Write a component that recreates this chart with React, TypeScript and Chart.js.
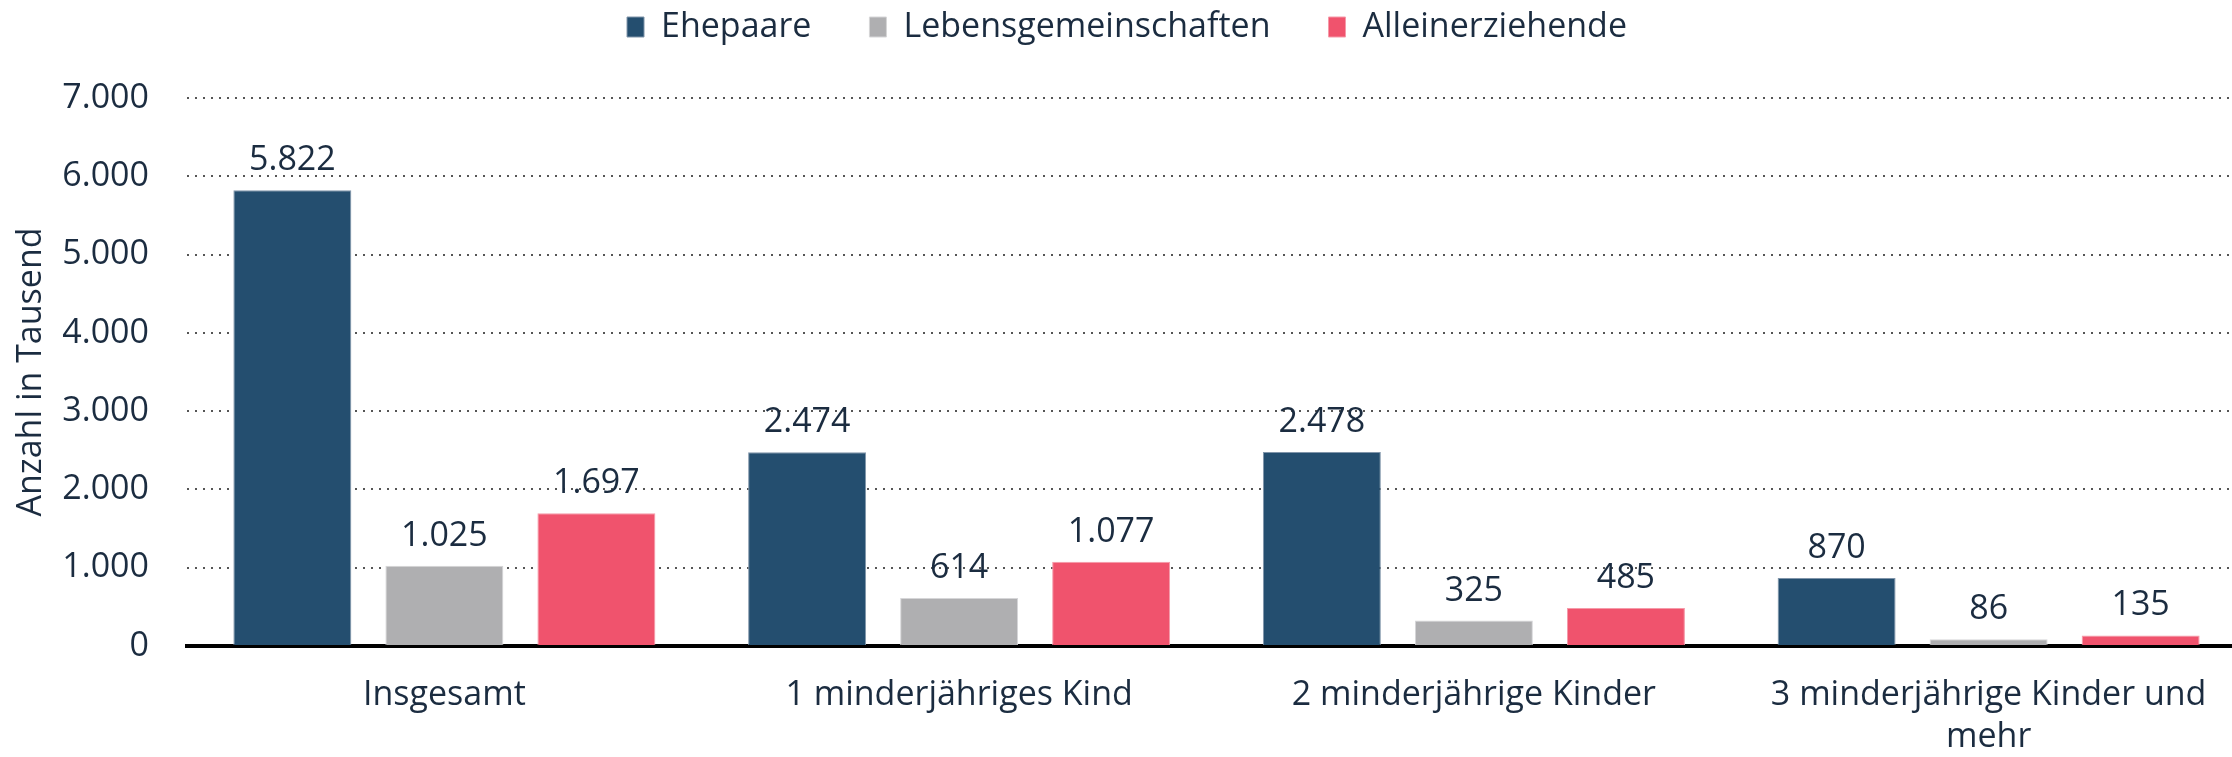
import React, { useEffect, useRef } from 'react';
import { Chart, registerables } from 'chart.js';

Chart.register(...registerables);

const categories: (string | string[])[] = [
  'Insgesamt',
  '1 minderjähriges Kind',
  '2 minderjährige Kinder',
  ['3 minderjährige Kinder und', 'mehr'],
];
const seriesNames = ['Ehepaare', 'Lebensgemeinschaften', 'Alleinerziehende'];
const ehepaare = [5822, 2474, 2478, 870];
const lebensgemeinschaften = [1025, 614, 325, 86];
const alleinerziehende = [1697, 1077, 485, 135];
const yMin = 0;
const yMax = 7000;
const yStep = 1000;
const yTitle = 'Anzahl in Tausend';

const TEXT = '#1b2c40';
const COLORS = ['#244e6f', '#afafb1', '#f0536d'];
const BORDERS = ['#8095aa', '#d6d6d8', '#f59aa9'];
const FONT = '"Open Sans", "Noto Sans", sans-serif';
const FS = 34;
const EXTEND_RIGHT = 14;
const LEGEND_SHIFT = 10;

const fmt = (n: number) => String(n).replace(/\B(?=(\d{3})+(?!\d))/g, '.');

const valueLabels = {
  id: 'valueLabels',
  afterDatasetsDraw(chart: any) {
    const ctx = chart.ctx;
    ctx.save();
    ctx.font = `${FS}px ${FONT}`;
    ctx.fillStyle = TEXT;
    ctx.textAlign = 'center';
    ctx.textBaseline = 'alphabetic';
    chart.data.datasets.forEach((ds: any, i: number) => {
      const meta = chart.getDatasetMeta(i);
      meta.data.forEach((bar: any, j: number) => {
        ctx.fillText(fmt(ds.data[j]), bar.x, bar.y - 20);
      });
    });
    ctx.restore();
  },
};

const layoutTweak = {
  id: 'layoutTweak',
  beforeInit(chart: any) {
    const legend = chart.legend;
    if (legend) {
      const origFit = legend.fit;
      legend.fit = function () {
        origFit.call(this);
        this.height = 98;
      };
    }
  },
  afterLayout(chart: any) {
    if (chart.legend) {
      chart.legend.top = -48;
      chart.legend.left += LEGEND_SHIFT;
      chart.legend.right += LEGEND_SHIFT;
    }
    const x = chart.scales.x;
    if (x) {
      x.right += EXTEND_RIGHT;
      x.width += EXTEND_RIGHT;
      x.configure();
    }
    chart.chartArea.right += EXTEND_RIGHT;
    chart.chartArea.width += EXTEND_RIGHT;
  },
};

export default function App() {
  const ref = useRef<HTMLCanvasElement | null>(null);
  useEffect(() => {
    document.body.style.margin = '0';
    document.body.style.overflow = 'hidden';
    const chart = new Chart(ref.current as HTMLCanvasElement, {
      type: 'bar',
      data: {
        labels: categories as any,
        datasets: [ehepaare, lebensgemeinschaften, alleinerziehende].map((d, i) => ({
          label: seriesNames[i],
          data: d,
          backgroundColor: COLORS[i],
          borderColor: BORDERS[i],
          borderWidth: 1,
          barPercentage: 0.776,
          categoryPercentage: 0.886,
        })),
      },
      options: {
        animation: false,
        responsive: true,
        maintainAspectRatio: false,
        layout: { padding: { left: 2, right: 0, top: 0, bottom: 0 } },
        plugins: {
          tooltip: { enabled: false },
          legend: {
            position: 'top',
            labels: {
              color: TEXT,
              font: { family: FONT, size: FS },
              boxWidth: 17,
              boxHeight: 20,
              padding: 58,
            },
          },
        },
        scales: {
          x: {
            grid: { display: false, drawTicks: false },
            border: { display: true, color: '#000000', width: 4 },
            ticks: {
              color: TEXT,
              font: { family: FONT, size: FS, lineHeight: 1.25 },
              padding: 28,
              maxRotation: 0,
              autoSkip: false,
            },
            afterFit(scale: any) {
              scale.height = 111;
            },
          },
          y: {
            min: yMin,
            max: yMax,
            grid: { color: '#555555', lineWidth: 2, drawTicks: false, borderDash: [2, 6] } as any,
            border: { display: false, dash: [2, 6] },
            ticks: {
              stepSize: yStep,
              color: TEXT,
              font: { family: FONT, size: FS },
              padding: 38,
              callback: (v: any) => fmt(Number(v)),
            },
            title: {
              display: true,
              text: yTitle,
              color: TEXT,
              font: { family: FONT, size: FS },
              padding: { top: 9, bottom: 0 },
            },
            afterFit(scale: any) {
              scale.width = 185;
            },
          },
        },
      },
      plugins: [valueLabels, layoutTweak],
    });
    return () => chart.destroy();
  }, []);
  return (
    <div style={{ width: '2232px', height: '757px', position: 'relative' }}>
      <canvas ref={ref} />
    </div>
  );
}
